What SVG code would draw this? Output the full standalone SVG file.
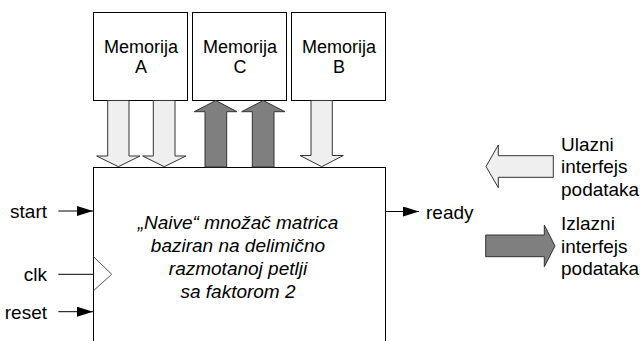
<svg xmlns="http://www.w3.org/2000/svg" width="640" height="341" viewBox="0 0 640 341">
<defs>
<style>
.box{fill:#fff;stroke:#000;stroke-width:1}
.t{font-family:"Liberation Sans",Arial,sans-serif;font-size:19px;fill:#000}
.m{font-size:18px;text-anchor:middle}
.it{font-style:italic;text-anchor:middle}
.light{fill:#efefef;stroke:#333;stroke-width:1}
.dark{fill:#7f7f7f;stroke:#333;stroke-width:1}
.sig{stroke:#000;stroke-width:1;fill:none}
</style>
<marker id="ah" markerWidth="16" markerHeight="10" refX="16" refY="5" orient="auto" markerUnits="userSpaceOnUse">
<path d="M0,0 L16,5 L0,10 Z" fill="#000"/>
</marker>
</defs>
<rect width="640" height="341" fill="#fff"/>
<g id="memA">
<rect class="box" x="93.5" y="12.5" width="94" height="88"/>
<text class="t m" x="141" y="52.5">Memorija</text>
<text class="t m" x="141" y="72.5">A</text>
</g>
<g id="memC">
<rect class="box" x="192.5" y="12.5" width="94" height="88"/>
<text class="t m" x="240" y="52.5">Memorija</text>
<text class="t m" x="240" y="72.5">C</text>
</g>
<g id="memB">
<rect class="box" x="291.5" y="12.5" width="94" height="88"/>
<text class="t m" x="339" y="52.5">Memorija</text>
<text class="t m" x="339" y="72.5">B</text>
</g>
<g id="core">
<rect class="box" x="93.5" y="167.5" width="292" height="190"/>
<polyline points="93.5,256.7 111.7,274.3 93.5,290.7" fill="none" stroke="#555" stroke-width="1"/>
<text class="t it" x="238" y="229">„Naive“ množač matrica</text>
<text class="t it" x="238" y="252">baziran na delimično</text>
<text class="t it" x="238" y="275">razmotanoj petlji</text>
<text class="t it" x="238" y="298">sa faktorom 2</text>
</g>
<g id="connectors">
<polygon class="light" points="107.7,100.5 129,100.5 129,156 140,156 118.3,166.7 96.7,156 107.7,156"/>
<polygon class="light" points="153.3,100.5 175,100.5 175,156 186,156 164.2,166.7 142.7,156 153.3,156"/>
<polygon class="light" points="311,100.5 332.3,100.5 332.3,155.5 343.3,155.5 321.7,166.7 300,155.5 311,155.5"/>
<polygon class="dark" points="205,167 205,111.7 194.3,111.7 215.8,100.5 237,111.7 226.7,111.7 226.7,167"/>
<polygon class="dark" points="252.3,167 252.3,111.7 241.7,111.7 263.2,100.5 285,111.7 274,111.7 274,167"/>
<line class="sig" x1="58.3" y1="211" x2="93" y2="211" marker-end="url(#ah)"/>
<line class="sig" x1="58.3" y1="274.3" x2="93" y2="274.3"/>
<line class="sig" x1="58.3" y1="311.7" x2="93" y2="311.7" marker-end="url(#ah)"/>
<line class="sig" x1="386" y1="211.5" x2="419" y2="211.5" marker-end="url(#ah)"/>
</g>
<g id="labels">
<text class="t" x="47" y="218" text-anchor="end">start</text>
<text class="t" x="47" y="281" text-anchor="end">clk</text>
<text class="t" x="47" y="318.5" text-anchor="end">reset</text>
<text class="t" x="426" y="218.5">ready</text>
</g>
<g id="legend-in">
<polygon class="light" points="553.3,155.7 498.3,155.7 498.3,145 486,166.5 498.3,187.7 498.3,177.3 553.3,177.3"/>
<text class="t" x="561" y="150.5">Ulazni</text>
<text class="t" x="561" y="173">interfejs</text>
<text class="t" x="561" y="195.5">podataka</text>
</g>
<g id="legend-out">
<polygon class="dark" points="485.7,235 544.3,235 544.3,225 555,246 544.3,266.7 544.3,256.7 485.7,256.7"/>
<text class="t" x="561" y="230">Izlazni</text>
<text class="t" x="561" y="252.5">interfejs</text>
<text class="t" x="561" y="275">podataka</text>
</g>
</svg>
